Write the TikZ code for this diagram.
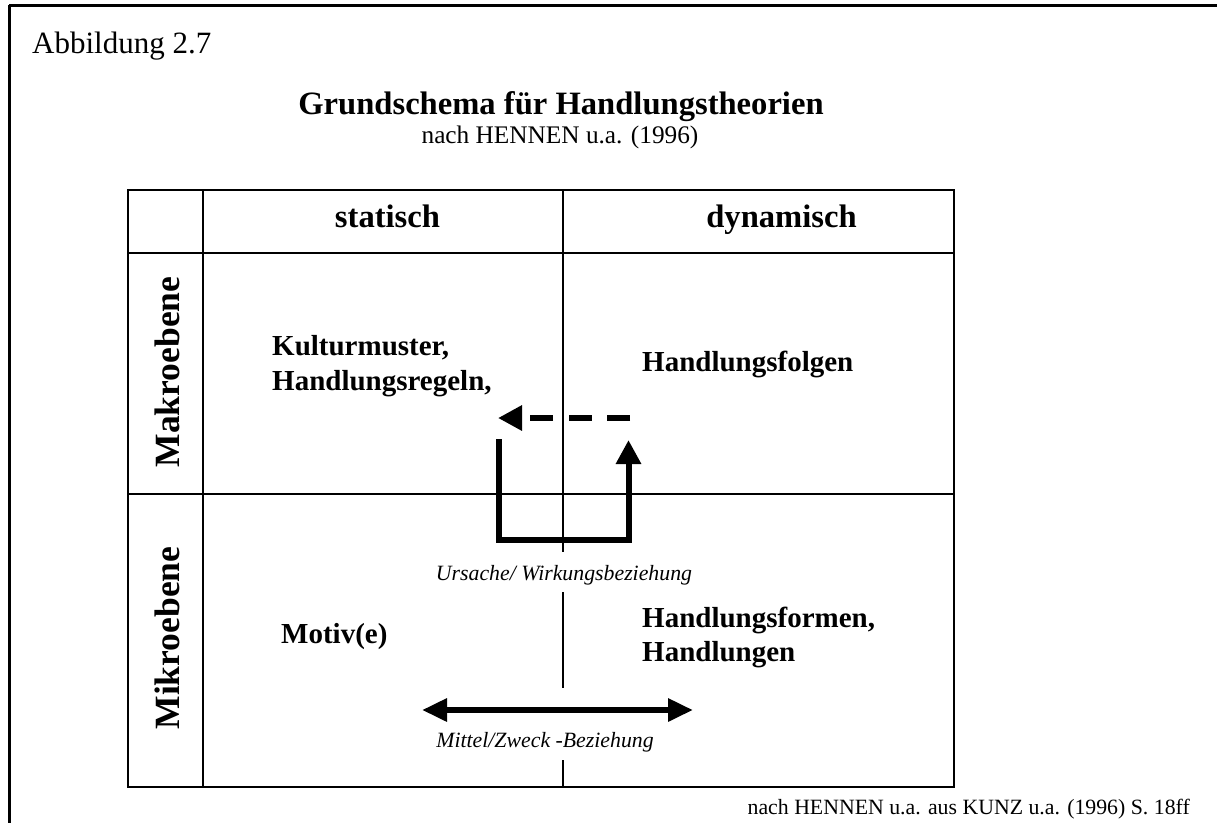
\documentclass[tikz,border=0pt]{standalone}
\usepackage{fontspec}
\setmainfont{Liberation Serif}
\usetikzlibrary{arrows.meta}

\newcommand{\fs}[1]{\fontsize{#1}{#1}\selectfont}

\tikzset{
  frame/.style={line width=3pt},
  grid/.style={line width=2pt},
  flow/.style={line width=6pt},
  bighead/.style={-{Triangle[length=24pt,width=24pt]}},
  twohead/.style={{Triangle[length=25pt,width=22pt]}-{Triangle[length=25pt,width=22pt]}},
  lbl/.style={inner sep=0pt, anchor=base},
  lblw/.style={inner sep=0pt, anchor=base west},
  cell/.style={lblw, font=\fs{29}\bfseries},
  head/.style={lbl, font=\fs{32.6}\bfseries},
  side/.style={inner sep=0pt, rotate=90, font=\fs{35.5}\bfseries},
  rel/.style={lbl, font=\fs{21.8}\itshape}
}

\begin{document}
\begin{tikzpicture}[x=1pt,y=-1pt]
\useasboundingbox (0,0) rectangle (1217,823);
\fill[white] (0,0) rectangle (1217,823);

% outer frame: top and left edge only
\draw[frame] (9,5) -- (1217,5);
\draw[frame] (9,5) -- (9,823);

% heading
\node[lblw, font=\fs{31}] (fig) at (32,53) {Abbildung 2.7};
\node[lbl, font=\fs{32.6}\bfseries] (title) at (561,114) {Grundschema für Handlungstheorien};
\node[lbl, font=\fs{25.3}] (sub) at (560,143) {nach HENNEN u.a. (1996)};

% table
\draw[grid] (128,190) rectangle (954,787);
\draw[grid] (203,190) -- (203,787);
\draw[grid] (128,253) -- (954,253);
\draw[grid] (128,494) -- (954,494);
% centre divider, interrupted by the relation labels
\draw[grid] (563,190) -- (563,552);
\draw[grid] (563,592) -- (563,688);
\draw[grid] (563,760) -- (563,787);

% column and row headings
\node[head] (stat) at (387.5,227) {statisch};
\node[head] (dyn) at (781.5,227) {dynamisch};
\node[side] (makro) at (167,372) {Makroebene};
\node[side] (mikro) at (167,638) {Mikroebene};

% cell contents
\node[cell] (kult) at (272,355) {Kulturmuster,};
\node[cell] (regeln) at (272,390) {Handlungsregeln,};
\node[cell] (folgen) at (642,371) {Handlungsfolgen};
\node[cell] (motiv) at (281,643) {Motiv(e)};
\node[cell] (formen) at (642,627) {Handlungsformen,};
\node[cell] (hand) at (642,661) {Handlungen};

% cause/effect loop
\coordinate (u1) at (498.5,439);
\coordinate (u2) at (498.5,540);
\coordinate (u3) at (628.5,540);
\coordinate (u4) at (628.5,440);
\draw[flow, bighead, line join=miter] (u1) -- (u2) -- (u3) -- (u4);
\coordinate (d1) at (630,418);
\coordinate (d2) at (498,418);
\draw[flow, bighead, dash pattern=on 23pt off 15.5pt] (d1) -- (d2);
\node[rel] (ursache) at (564,580) {Ursache/ Wirkungsbeziehung};

% means/end relation
\coordinate (m1) at (422,710);
\coordinate (m2) at (693,710);
\draw[flow, twohead] (m1) -- (m2);
\node[rel] (mittel) at (545,747) {Mittel/Zweck -Beziehung};

% source
\node[inner sep=0pt, anchor=base east, font=\fs{21.8}] (src) at (1190,814) {nach HENNEN u.a. aus KUNZ u.a. (1996) S. 18ff};
\end{tikzpicture}
\end{document}
